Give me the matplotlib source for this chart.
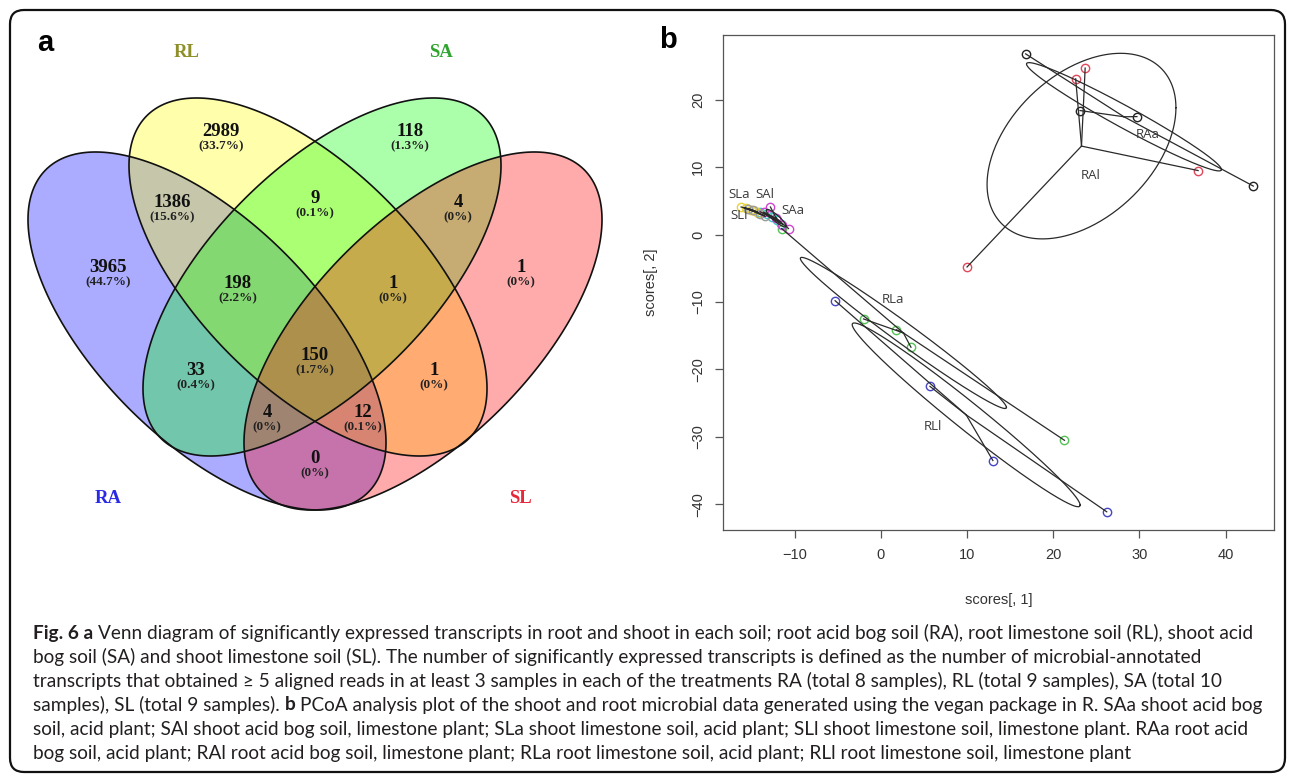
import numpy as np
import matplotlib
matplotlib.use('Agg')
import matplotlib.pyplot as plt
from matplotlib.patches import Polygon, FancyBboxPatch

# ---- panel a: Venn counts ----
venn_sets = ['RA', 'RL', 'SA', 'SL']
venn_fill = ['#0000ff', '#ffff00', '#00ff00', '#ff0000']
venn_label_col = ['#2a2ae6', '#8f8f2a', '#2fa42f', '#e8283a']

region_names = ['RA', 'RL', 'SA', 'SL', 'RA&RL', 'RL&SA', 'SA&SL', 'RA&RL&SA',
                'RL&SA&SL', 'RA&SA', 'RL&SL', 'RA&RL&SA&SL', 'RA&SA&SL',
                'RA&RL&SL', 'RA&SL']
region_counts = [3965, 2989, 118, 1, 1386, 9, 4, 198, 1, 33, 1, 150, 4, 12, 0]
region_pcts = ['44.7%', '33.7%', '1.3%', '0%', '15.6%', '0.1%', '0%', '2.2%',
               '0%', '0.4%', '0%', '1.7%', '0%', '0.1%', '0%']

# ---- panel b: PCoA scores ----
groups = ['RAa', 'RAl', 'RLa', 'RLl', 'SAa', 'SAl', 'SLa', 'SLl']
score1 = {
    'RAa': [16.8, 23.1, 29.7, 43.2],
    'RAl': [23.7, 22.6, 36.8, 10.0],
    'RLa': [-11.5, -2.0, 1.8, 3.5, 21.3],
    'RLl': [-5.3, 5.7, 13.0, 26.2],
    'SAa': [-14.0, -13.2, -12.6, -12.0, -11.6],
    'SAl': [-12.8, -13.6, -12.2, -11.4, -10.7],
    'SLa': [-16.2, -15.6, -15.0, -14.6, -14.2],
    'SLl': [-15.4, -14.8, -14.0, -13.4],
}
score2 = {
    'RAa': [26.8, 18.4, 17.5, 7.2],
    'RAl': [24.7, 23.1, 9.5, -4.8],
    'RLa': [0.9, -12.5, -14.1, -16.7, -30.5],
    'RLl': [-9.8, -22.5, -33.5, -41.1],
    'SAa': [3.4, 3.0, 2.6, 2.2, 1.6],
    'SAl': [4.1, 3.3, 2.4, 1.5, 0.9],
    'SLa': [4.1, 3.9, 3.7, 3.5, 3.2],
    'SLl': [3.8, 3.6, 3.1, 2.7],
}
group_col = {'RAa': '#222222', 'RAl': '#e0485a', 'RLa': '#55c255', 'RLl': '#4646c4',
             'SAa': '#3cc6c6', 'SAl': '#cf45cf', 'SLa': '#e8d33c', 'SLl': '#9a9a9a'}
group_lab_pos = {'RAa': (31.0, 14.9), 'RAl': (24.3, 8.8), 'RLa': (1.4, -9.6),
                 'RLl': (6.0, -28.4), 'SAa': (-10.2, 3.6), 'SAl': (-13.4, 5.9),
                 'SLa': (-16.4, 5.9), 'SLl': (-16.4, 2.8)}

caption = [
    [('Fig. 6 a', 'bold'), ('Venn diagram of significantly expressed transcripts in root and shoot in each soil; root acid bog soil (RA), root limestone soil (RL), shoot acid', 'normal')],
    [('bog soil (SA) and shoot limestone soil (SL). The number of significantly expressed transcripts is defined as the number of microbial-annotated', 'normal')],
    [('transcripts that obtained \u2265 5 aligned reads in at least 3 samples in each of the treatments RA (total 8 samples), RL (total 9 samples), SA (total 10', 'normal')],
    [('samples), SL (total 9 samples).', 'normal'), ('b', 'bold'), ('PCoA analysis plot of the shoot and root microbial data generated using the vegan package in R. SAa shoot acid bog', 'normal')],
    [('soil, acid plant; SAl shoot acid bog soil, limestone plant; SLa shoot limestone soil, acid plant; SLl shoot limestone soil, limestone plant. RAa root acid', 'normal')],
    [('bog soil, acid plant; RAl root acid bog soil, limestone plant; RLa root limestone soil, acid plant; RLl root limestone soil, limestone plant', 'normal')],
]

W, H = 1295, 784
fig = plt.figure(figsize=(W / 100, H / 100), dpi=100)
ax0 = fig.add_axes([0, 0, 1, 1])
ax0.set_xlim(0, W)
ax0.set_ylim(H, 0)
ax0.axis('off')

ax0.add_patch(FancyBboxPatch((10, 10), W - 20, H - 22, boxstyle='round,pad=0,rounding_size=14',
                             fc='none', ec='#111111', lw=1.6))

# venn ellipses in pixel space (y grows downward)
venn_centers = [(207, 331), (308, 277), (322, 277), (423, 331)]
venn_rot = [45, 45, -45, -45]


def venn_shape(c, rot):
    t = np.linspace(0, 2 * np.pi, 500)
    a, b = 228, 110
    r = np.deg2rad(rot)
    x = c[0] + a * np.cos(t) * np.cos(r) - b * np.sin(t) * np.sin(r)
    y = c[1] + a * np.cos(t) * np.sin(r) + b * np.sin(t) * np.cos(r)
    return np.column_stack([x, y])


shapes = [venn_shape(c, r) for c, r in zip(venn_centers, venn_rot)]
for sh, col in zip(shapes, venn_fill):
    ax0.add_patch(Polygon(sh, closed=True, fc=col, alpha=0.33, ec='none'))
for sh in shapes:
    ax0.add_patch(Polygon(sh, closed=True, fc='none', ec='#111111', lw=1.2))

region_pos = {'RA': (108, 267), 'RL': (221, 131), 'SA': (410, 131), 'SL': (521, 267),
              'RA&RL': (172, 202), 'RL&SA': (315, 198), 'SA&SL': (458, 202),
              'RA&RL&SA': (238, 283), 'RL&SA&SL': (393, 283), 'RA&SA': (196, 370),
              'RL&SL': (434, 370), 'RA&RL&SA&SL': (315, 355), 'RA&SA&SL': (267, 412),
              'RA&RL&SL': (363, 412), 'RA&SL': (315, 458)}
for name, n, p in zip(region_names, region_counts, region_pcts):
    x, y = region_pos[name]
    ax0.text(x, y, str(n), ha='center', va='center', family='Liberation Serif',
             fontweight='bold', fontsize=13.5, color='#111111')
    ax0.text(x, y + 15, '(' + p + ')', ha='center', va='center', family='Liberation Serif',
             fontweight='bold', fontsize=9.5, color='#222222')

set_lab_pos = {'RA': (108, 498), 'RL': (187, 52), 'SA': (441, 52), 'SL': (520, 498)}
for s, col in zip(venn_sets, venn_label_col):
    x, y = set_lab_pos[s]
    ax0.text(x, y, s, ha='center', va='center', family='Liberation Serif',
             fontweight='bold', fontsize=13.5, color=col)

ax0.text(45, 43, 'a', ha='center', va='center', family='Liberation Sans',
         fontweight='bold', fontsize=21, color='#000000')
ax0.text(668, 40, 'b', ha='center', va='center', family='Liberation Sans',
         fontweight='bold', fontsize=21, color='#000000')

# caption
CAP_FONT = 'Lato'
CAP_SIZE = 13.7
r = fig.canvas.get_renderer()
t1 = ax0.text(0, -50, 'nn', fontsize=CAP_SIZE, family=CAP_FONT)
t2 = ax0.text(0, -50, 'n n', fontsize=CAP_SIZE, family=CAP_FONT)
space_w = t2.get_window_extent(r).width - t1.get_window_extent(r).width
t1.remove()
t2.remove()
for i, line in enumerate(caption):
    x = 33
    y = 633 + 24 * i
    for s, w in line:
        t = ax0.text(x, y, s, ha='left', va='center', family=CAP_FONT, fontweight=w,
                     fontsize=CAP_SIZE, color='#231f20')
        x += t.get_window_extent(r).width + space_w

# PCoA panel
ax = fig.add_axes([723 / W, 1 - 530 / H, 551 / W, 495 / H])
lc = '#2a2a2a'
for g in groups:
    xs = np.array(score1[g])
    ys = np.array(score2[g])
    ax.plot(xs, ys, 'o', mfc='none', mec=group_col[g], ms=6, mew=1.0, zorder=2)
for g in groups:
    xs = np.array(score1[g])
    ys = np.array(score2[g])
    cx, cy = xs.mean(), ys.mean()
    for xi, yi in zip(xs, ys):
        ax.plot([cx, xi], [cy, yi], color=lc, lw=0.9, zorder=3)
    cov = np.cov(xs, ys)
    L = np.linalg.cholesky(cov)
    t = np.linspace(0, 2 * np.pi, 300)
    e = L @ np.vstack([np.cos(t), np.sin(t)])
    ax.plot(cx + e[0], cy + e[1], color=lc, lw=0.9, zorder=3)
    lx, ly = group_lab_pos[g]
    ax.text(lx, ly, g, ha='center', va='center', family='Open Sans', fontsize=9.5,
            color='#3a3a3a', zorder=4)

ax.set_xlim(-18.3, 45.6)
ax.set_ylim(-43.8, 29.6)
ax.set_xticks([-10, 0, 10, 20, 30, 40])
ax.set_yticks([-40, -30, -20, -10, 0, 10, 20])
for sp in ax.spines.values():
    sp.set_color('#555555')
    sp.set_linewidth(0.9)
ax.tick_params(direction='out', length=6, width=0.9, color='#555555',
               labelsize=10.5, labelcolor='#333333', pad=7)
ax.tick_params(axis='y', labelrotation=90)
for lab in ax.get_yticklabels():
    lab.set_va('center')
for lab in ax.get_xticklabels() + ax.get_yticklabels():
    lab.set_family('Liberation Sans')
ax.set_xlabel('scores[, 1]', family='Liberation Sans', fontsize=10.5, color='#333333', labelpad=22)
ax.set_ylabel('scores[, 2]', family='Liberation Sans', fontsize=10.5, color='#333333', labelpad=24)

fig.savefig('out.png', dpi=100)
